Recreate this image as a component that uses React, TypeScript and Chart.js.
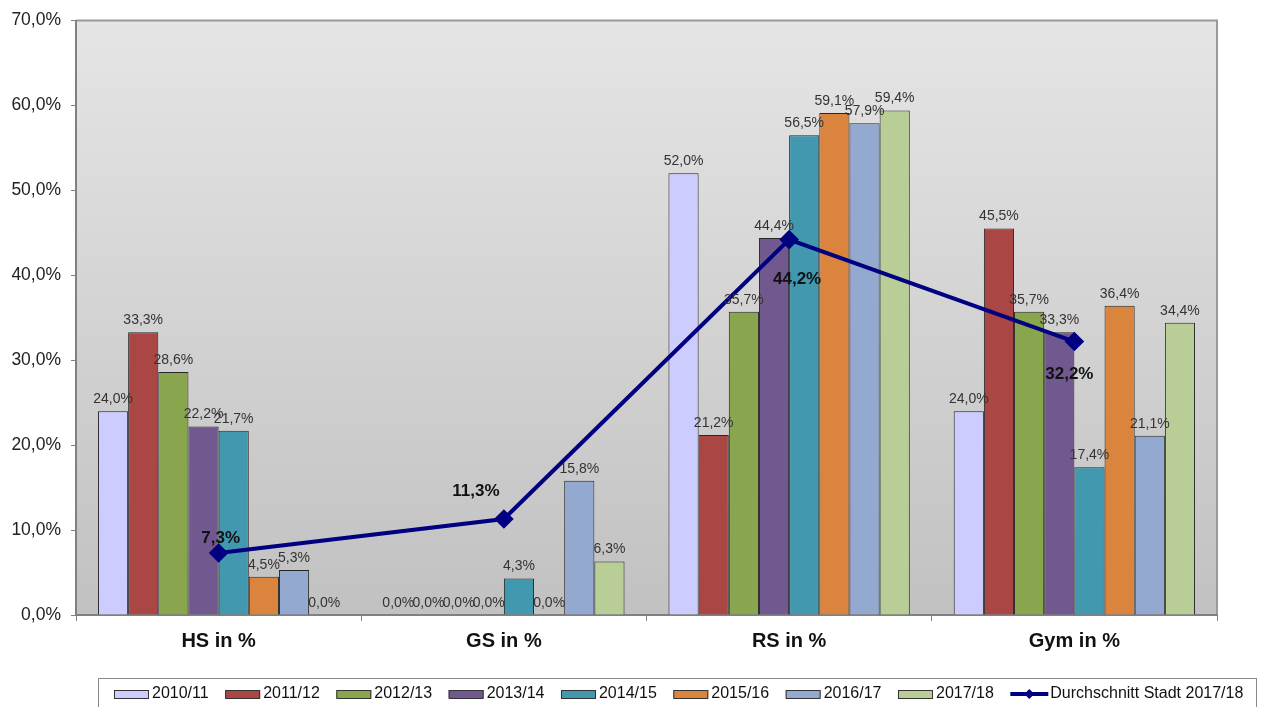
import React, { useEffect, useRef } from "react";
import { Chart, registerables } from "chart.js";

Chart.register(...registerables);

const categories = ["HS in %", "GS in %", "RS in %", "Gym in %"];
const seriesLabels = ["2010/11", "2011/12", "2012/13", "2013/14", "2014/15", "2015/16", "2016/17", "2017/18"];
const s2010 = [24.0, 0.0, 52.0, 24.0];
const s2011 = [33.3, 0.0, 21.2, 45.5];
const s2012 = [28.6, 0.0, 35.7, 35.7];
const s2013 = [22.2, 0.0, 44.4, 33.3];
const s2014 = [21.7, 4.3, 56.5, 17.4];
const s2015 = [4.5, 0.0, 59.1, 36.4];
const s2016 = [5.3, 15.8, 57.9, 21.1];
const s2017 = [0.0, 6.3, 59.4, 34.4];
const averageLabel = "Durchschnitt Stadt 2017/18";
const average = [7.3, 11.3, 44.2, 32.2];
const yMin = 0;
const yMax = 70;
const yStep = 10;

const barColors = ["#ccccff", "#aa4643", "#89a54e", "#71588f", "#4198af", "#db843d", "#93a9cf", "#b9cd96"];
const lineColor = "#000080";
const FONT = '"Liberation Sans", Arial, sans-serif';

const fmt = (v: number) => v.toFixed(1).replace(".", ",") + "%";

// label placement for the average line (relative to its point)
const lineLabelOffsets = [
  [2, -15],
  [-28, -28],
  [8, 40],
  [-5, 33],
];

const bgPlugin = {
  id: "bgPlugin",
  beforeDraw(chart: any) {
    const { ctx, chartArea } = chart;
    const { left, top, right, bottom } = chartArea;
    ctx.save();
    const g = ctx.createLinearGradient(0, top, 0, bottom);
    g.addColorStop(0, "#e5e5e5");
    g.addColorStop(1, "#c1c1c1");
    ctx.fillStyle = g;
    ctx.fillRect(left, top, right - left, bottom - top);
    ctx.strokeStyle = "#9a9a9a";
    ctx.lineWidth = 2;
    ctx.beginPath();
    ctx.moveTo(left, top);
    ctx.lineTo(right, top);
    ctx.lineTo(right, bottom);
    ctx.stroke();
    ctx.restore();
  },
};

const labelPlugin = {
  id: "labelPlugin",
  afterDatasetsDraw(chart: any) {
    const { ctx } = chart;
    ctx.save();
    ctx.textAlign = "center";
    ctx.textBaseline = "bottom";
    ctx.fillStyle = "#333333";
    ctx.font = `14px ${FONT}`;
    chart.data.datasets.forEach((ds: any, i: number) => {
      if (ds.type === "line") return;
      const meta = chart.getDatasetMeta(i);
      meta.data.forEach((el: any, j: number) => {
        ctx.fillText(fmt(ds.data[j]), el.x, el.y - 5);
      });
    });
    const li = chart.data.datasets.findIndex((d: any) => d.type === "line");
    if (li >= 0) {
      const ds = chart.data.datasets[li];
      const meta = chart.getDatasetMeta(li);
      ctx.font = `bold 17px ${FONT}`;
      ctx.fillStyle = "#111111";
      ctx.textBaseline = "middle";
      meta.data.forEach((el: any, j: number) => {
        const off = lineLabelOffsets[j] || [0, -15];
        ctx.fillText(fmt(ds.data[j]), el.x + off[0], el.y + off[1]);
      });
    }
    ctx.restore();
  },
};

const legendPlugin = {
  id: "customLegend",
  afterDraw(chart: any) {
    const { ctx } = chart;
    ctx.save();
    ctx.strokeStyle = "#8a8a8a";
    ctx.lineWidth = 1;
    ctx.strokeRect(98.5, 678.5, 1158, 40);
    ctx.font = `16px ${FONT}`;
    ctx.textBaseline = "middle";
    ctx.textAlign = "left";
    const cy = 694;
    let x = 114;
    chart.data.datasets.forEach((ds: any) => {
      if (ds.type === "line") {
        ctx.strokeStyle = ds.borderColor;
        ctx.lineWidth = 4;
        ctx.beginPath();
        ctx.moveTo(x, cy);
        ctx.lineTo(x + 38, cy);
        ctx.stroke();
        ctx.fillStyle = ds.borderColor;
        ctx.beginPath();
        const r = 5;
        const mx = x + 19;
        ctx.moveTo(mx, cy - r);
        ctx.lineTo(mx + r, cy);
        ctx.lineTo(mx, cy + r);
        ctx.lineTo(mx - r, cy);
        ctx.closePath();
        ctx.fill();
        ctx.fillStyle = "#111111";
        ctx.fillText(ds.label, x + 40, cy);
      } else {
        ctx.fillStyle = ds.backgroundColor;
        ctx.fillRect(x, cy - 4, 35, 8);
        ctx.strokeStyle = "#333333";
        ctx.lineWidth = 1;
        ctx.strokeRect(x + 0.5, cy - 4 + 0.5, 34, 8);
        ctx.fillStyle = "#111111";
        ctx.fillText(ds.label, x + 38, cy);
        x += 38 + ctx.measureText(ds.label).width + 16.5;
      }
    });
    ctx.restore();
  },
};

export default function App() {
  const ref = useRef<HTMLCanvasElement | null>(null);
  useEffect(() => {
    if (!ref.current) return;
    const series = [s2010, s2011, s2012, s2013, s2014, s2015, s2016, s2017];
    const datasets: any[] = series.map((d, i) => ({
      type: "bar",
      label: seriesLabels[i],
      data: d,
      backgroundColor: barColors[i],
      borderColor: "#262626",
      borderWidth: 1,
      categoryPercentage: 0.846,
      barPercentage: 1.0,
    }));
    datasets.push({
      type: "line",
      label: averageLabel,
      data: average,
      borderColor: lineColor,
      backgroundColor: lineColor,
      borderWidth: 4,
      pointStyle: "rectRot",
      pointRadius: 7,
      pointBackgroundColor: lineColor,
      pointBorderColor: lineColor,
      tension: 0,
      order: -1,
    });
    const chart = new Chart(ref.current, {
      type: "bar",
      data: { labels: categories, datasets },
      options: {
        responsive: false,
        animation: false,
        layout: { padding: { top: 16, right: 53, bottom: 52, left: 0 } },
        plugins: { legend: { display: false }, tooltip: { enabled: false } },
        scales: {
          x: {
            grid: { offset: true, drawOnChartArea: false, tickLength: 6, color: "#808080" },
            border: { color: "#808080", width: 2 },
            ticks: { font: { family: FONT, size: 20, weight: "bold" }, color: "#111111", padding: 8 },
            afterFit: (s: any) => {
              s.height = 40;
            },
          },
          y: {
            min: yMin,
            max: yMax,
            ticks: {
              stepSize: yStep,
              callback: (v: any) => fmt(Number(v)),
              font: { family: FONT, size: 17.5 },
              color: "#222222",
              padding: 10,
            },
            grid: { drawOnChartArea: false, tickLength: 5, color: "#808080" },
            border: { color: "#808080", width: 2 },
            afterFit: (s: any) => {
              s.width = 76;
            },
          },
        },
      } as any,
      plugins: [bgPlugin, labelPlugin, legendPlugin],
    });
    return () => chart.destroy();
  }, []);
  return (
    <div style={{ position: "fixed", left: 0, top: 0, width: 1270, height: 707, background: "#ffffff" }}>
      <canvas ref={ref} width={1270} height={707} style={{ display: "block" }} />
    </div>
  );
}
